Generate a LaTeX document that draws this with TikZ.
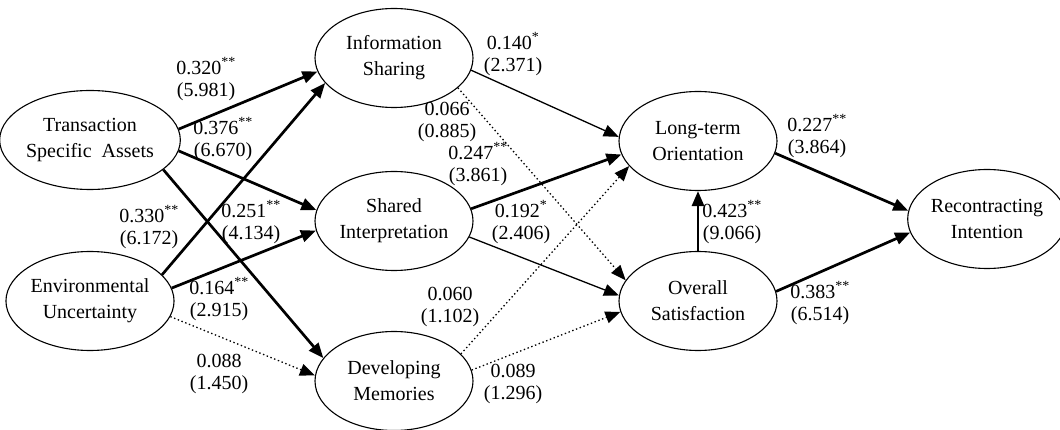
\documentclass[tikz,border=0pt]{standalone}
\usepackage{fontspec}
\setmainfont{Liberation Serif}
\usetikzlibrary{shapes.geometric,arrows.meta}

\begin{document}
\begin{tikzpicture}[x=1pt,y=-1pt,
    latent/.style={draw,ellipse,line width=1.1pt,minimum width=158pt,minimum height=99pt,
      inner sep=0pt,align=center,font=\fontsize{20}{26}\selectfont},
    coef/.style={align=center,inner sep=0pt,font=\fontsize{20}{22}\selectfont},
    tip/.style={-{Triangle[length=15pt,width=12pt]}},
    strong/.style={tip,line width=2.7pt},
    plain/.style={tip,line width=1.3pt},
    weak/.style={tip,line width=1.3pt,dash pattern=on 1.4pt off 2.6pt}]
  \useasboundingbox (0,0) rectangle (1060,430);

  \node [latent] (tsa) at (90,140) {Transaction\\Specific~ Assets};
  \node [latent] (eu) at (90,301) {Environmental\\Uncertainty};
  \node [latent] (is) at (394,58) {Information\\Sharing};
  \node [latent] (si) at (394,221) {Shared\\Interpretation};
  \node [latent] (dm) at (394,381) {Developing\\Memories};
  \node [latent] (lto) at (698,141) {Long-term\\Orientation};
  \node [latent] (os) at (698,301) {Overall\\Satisfaction};
  \node [latent,minimum width=150pt] (ri) at (987,219) {Recontracting\\Intention};

  \draw [strong] (tsa.7) -- (is.190);
  \draw [strong] (tsa.353) -- (si.172);
  \draw [strong] (tsa.338) -- (dm.162);
  \draw [strong] (eu.20) -- (is.200);
  \draw [strong] (eu.9) -- (si.187);
  \draw [weak] (eu.349) -- (dm.176);
  \draw [plain] (is.351) -- (lto.177);
  \draw [weak] (is.335) -- (os.164);
  \draw [strong] (si.9) -- (lto.190);
  \draw [plain] (si.348) -- (os.176);
  \draw [weak] (dm.22) -- (lto.200);
  \draw [weak] (dm.8) -- (os.188);
  \draw [strong] (os.90) -- (lto.270);
  \draw [strong] (lto.351) -- (ri.174);
  \draw [strong] (os.7) -- (ri.190);

  \node [coef] (tsais) at (206,79) {0.320\textsuperscript{**}\\(5.981)};
  \node [coef] (tsasi) at (223,139) {0.376\textsuperscript{**}\\(6.670)};
  \node [coef] (tsadm) at (251,222) {0.251\textsuperscript{**}\\(4.134)};
  \node [coef] (euis) at (149,227) {0.330\textsuperscript{**}\\(6.172)};
  \node [coef] (eusi) at (219,299) {0.164\textsuperscript{**}\\(2.915)};
  \node [coef] (eudm) at (219,374) {0.088\\(1.450)};
  \node [coef] (islto) at (513,54) {0.140\textsuperscript{*}\\(2.371)};
  \node [coef] (isos) at (447,122) {0.066\\(0.885)};
  \node [coef] (silto) at (478,164) {0.247\textsuperscript{**}\\(3.861)};
  \node [coef] (sios) at (521,222) {0.192\textsuperscript{*}\\(2.406)};
  \node [coef] (dmlto) at (450,307) {0.060\\(1.102)};
  \node [coef] (dmos) at (513,384) {0.089\\(1.296)};
  \node [coef] (oslto) at (732,222) {0.423\textsuperscript{**}\\(9.066)};
  \node [coef] (ltori) at (817,136) {0.227\textsuperscript{**}\\(3.864)};
  \node [coef] (osri) at (820,303) {0.383\textsuperscript{**}\\(6.514)};
\end{tikzpicture}
\end{document}
